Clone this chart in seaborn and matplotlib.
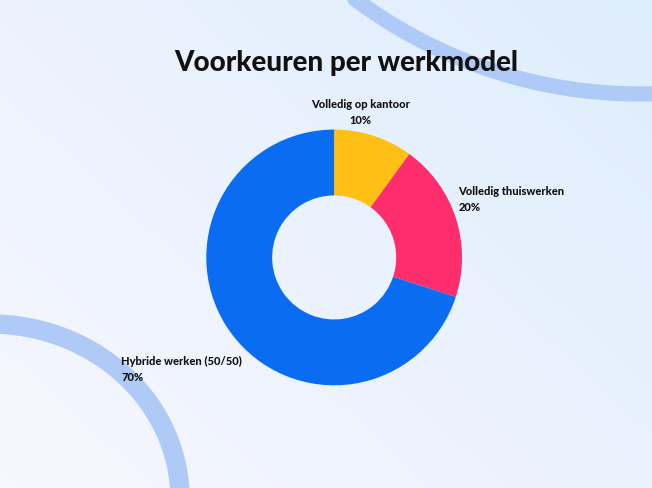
import numpy as np
import matplotlib.pyplot as plt
import seaborn as sns

categories = ["Volledig op kantoor", "Volledig thuiswerken", "Hybride werken (50/50)"]
shares = [10, 20, 70]
colors = ["#ffc015", "#ff2d6b", "#0a6cf1"]

sns.set_theme(style="white", font="Lato")

fig = plt.figure(figsize=(6.52, 4.89), dpi=100)

# background gradient + decorative arcs (pixel coordinates)
bg = fig.add_axes([0, 0, 1, 1])
bg.set_xlim(0, 652)
bg.set_ylim(489, 0)
bg.axis("off")
gx, gy = np.meshgrid(np.linspace(0, 1, 200), np.linspace(0, 1, 200))
t = np.clip(0.55 * gx + 0.45 * (1 - gy), 0, 1)
img = np.zeros((200, 200, 3))
c0 = np.array([0.97, 0.97, 1.0])
c1 = np.array([0.87, 0.93, 0.99])
for k in range(3):
    img[:, :, k] = c0[k] * (1 - t) + c1[k] * t
bg.imshow(img, extent=[0, 652, 489, 0], aspect="auto", zorder=0)
th = np.radians(np.linspace(70, 128, 100))
bg.plot(640 + 475 * np.cos(th), -380 + 475 * np.sin(th), color="#a9c6f7", lw=11, alpha=0.9, zorder=1)
th2 = np.linspace(-np.pi * 0.5, 0.0, 100)
bg.plot(-10 + 190 * np.cos(th2), 500 + 175 * np.sin(th2), color="#a9c6f7", lw=14, alpha=0.9, zorder=1)

ax = fig.add_axes([0.316, 0.21, 0.393, 0.523])
ax.pie(shares, colors=colors, startangle=90, counterclock=False,
       wedgeprops=dict(width=0.515, edgecolor="none"))
ax.set_xlim(-1, 1)
ax.set_ylim(-1, 1)
ax.set_aspect("equal")

fig.text(0.531, 0.872, "Voorkeuren per werkmodel", ha="center", va="center",
         fontsize=20, fontweight="heavy", color="#111111")

label_pos = [(0.553, 0.77, "center"), (0.703, 0.592, "left"), (0.186, 0.245, "left")]
for (x, y, ha), name, val in zip(label_pos, categories, shares):
    fig.text(x, y, f"{name}\n{val}%", ha=ha, va="center", fontsize=8,
             fontweight="heavy", color="#111111", linespacing=1.6,
             multialignment="center" if ha == "center" else "left")

fig.savefig("out.png", dpi=100)
